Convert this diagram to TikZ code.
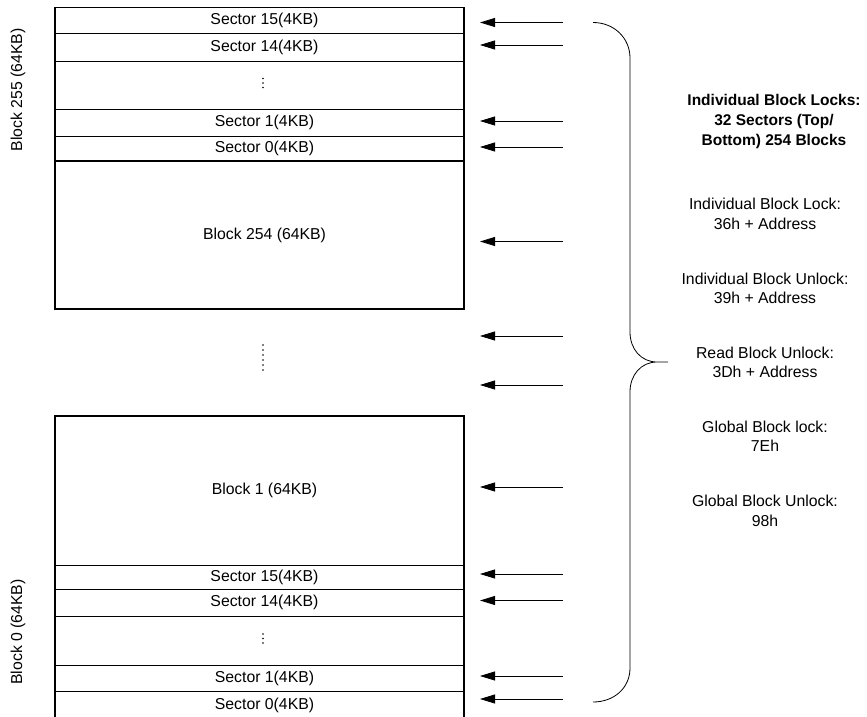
\documentclass[tikz,border=0pt]{standalone}
\usepackage{fontspec}
\setmainfont{Liberation Sans}
\usetikzlibrary{positioning,arrows.meta}

\begin{document}
\begin{tikzpicture}[
  x = 1pt, y = -1pt,
  font = \fontsize{15.8}{19.5}\selectfont,
  cell/.style = {draw, line width = 0.8pt, minimum width = 409pt, minimum height = #1, inner sep = 0pt, outer sep = 0pt,
    execute at begin node = \hspace*{10pt}},
  frame/.style = {line width = 1.3pt},
  dots/.style = {line width = 1.7pt, line cap = round, dash pattern = on 0pt off #1},
  arr/.style = {line width = 0.8pt, -{Triangle[length = 15pt, width = 9pt]}, shorten > = 16pt},
  note/.style = {align = center},
  side/.style = {rotate = 90}
  ]
  \useasboundingbox (0,0) rectangle (867,717);

  \node (s15) [cell = 25.5pt, anchor = north] at (259.5,7.5) {Sector 15(4KB)};
  \node (s14) [cell = 28pt, below = 0pt of s15] {Sector 14(4KB)};
  \node (sdots) [cell = 48pt, below = 0pt of s14] {};
  \node (s1) [cell = 27pt, below = 0pt of sdots] {Sector 1(4KB)};
  \node (s0) [cell = 25pt, below = 0pt of s1] {Sector 0(4KB)};
  \node (b254) [cell = 148pt, below = 0pt of s0] {Block 254 (64KB)};
  \node (gap) [cell = 107pt, draw = none, below = 0pt of b254] {};
  \node (b1) [cell = 149pt, below = 0pt of gap] {Block 1 (64KB)};
  \node (s15b) [cell = 24pt, below = 0pt of b1] {Sector 15(4KB)};
  \node (s14b) [cell = 27pt, below = 0pt of s15b] {Sector 14(4KB)};
  \node (sdotsb) [cell = 49pt, below = 0pt of s14b] {};
  \node (s1b) [cell = 26pt, below = 0pt of sdotsb] {Sector 1(4KB)};
  \node (s0b) [cell = 28pt, below = 0pt of s1b] {Sector 0(4KB)};

  \draw[frame] (s15.north west) rectangle (b254.south east);
  \draw[frame] (s0.south west) -- (s0.south east);
  \draw[frame] (b1.north west) rectangle (s0b.south east);
  \draw[dots = 5pt] ([shift = {(3.5,-17.5)}]gap.center) -- ++(0,25.5);
  \draw[dots = 4.5pt] ([shift = {(3.5,-6.5)}]sdots.center) -- ++(0,9.5);
  \draw[dots = 4.5pt] ([shift = {(3.5,-6.5)}]sdotsb.center) -- ++(0,9.5);

  \node (top) [side] at (18,90) {Block 255 (64KB)};
  \node (bot) [side] at (18,632) {Block 0 (64KB)};

  \coordinate (e1) at (563,22.5);
  \coordinate (e2) at (563,45);
  \coordinate (e3) at (563,121);
  \coordinate (e4) at (563,147);
  \coordinate (e5) at (563,241.5);
  \coordinate (e6) at (563,336);
  \coordinate (e7) at (563,385);
  \coordinate (e8) at (563,487);
  \coordinate (e9) at (563,574);
  \coordinate (e10) at (563,600.5);
  \coordinate (e11) at (563,676);
  \coordinate (e12) at (563,699);

  \draw[arr] (e1) -- (e1 -| s15.east);
  \draw[arr] (e2) -- (e2 -| s14.east);
  \draw[arr] (e3) -- (e3 -| s1.east);
  \draw[arr] (e4) -- (e4 -| s0.east);
  \draw[arr] (e5) -- (e5 -| b254.east);
  \draw[arr] (e6) -- (e6 -| gap.east);
  \draw[arr] (e7) -- (e7 -| gap.east);
  \draw[arr] (e8) -- (e8 -| b1.east);
  \draw[arr] (e9) -- (e9 -| s15b.east);
  \draw[arr] (e10) -- (e10 -| s14b.east);
  \draw[arr] (e11) -- (e11 -| s1b.east);
  \draw[arr] (e12) -- (e12 -| s0b.east);

  \draw[line width = 0.8pt] (593,22.5) .. controls (614,22.5) and (630,38) .. (630,58)
    -- (630,332) .. controls (630,349) and (641,362) .. (657,362) -- (668,362)
    -- (657,362) .. controls (641,362) and (630,375) .. (630,392)
    -- (630,668) .. controls (630,688) and (614,702) .. (593,702);

  \node (title) [note, font = \fontsize{15.5}{20}\selectfont\bfseries] at (774,121)
    {Individual Block Locks:\\32 Sectors (Top/\\Bottom) 254 Blocks};
  \node (lock) [note] at (765,214) {Individual Block Lock:\\36h + Address};
  \node (unlock) [note] at (765,288.5) {Individual Block Unlock:\\39h + Address};
  \node (rdunlock) [note] at (765,362.5) {Read Block Unlock:\\3Dh + Address};
  \node (glock) [note] at (765,436.5) {Global Block lock:\\7Eh};
  \node (gunlock) [note] at (765,511) {Global Block Unlock:\\98h};
\end{tikzpicture}
\end{document}
